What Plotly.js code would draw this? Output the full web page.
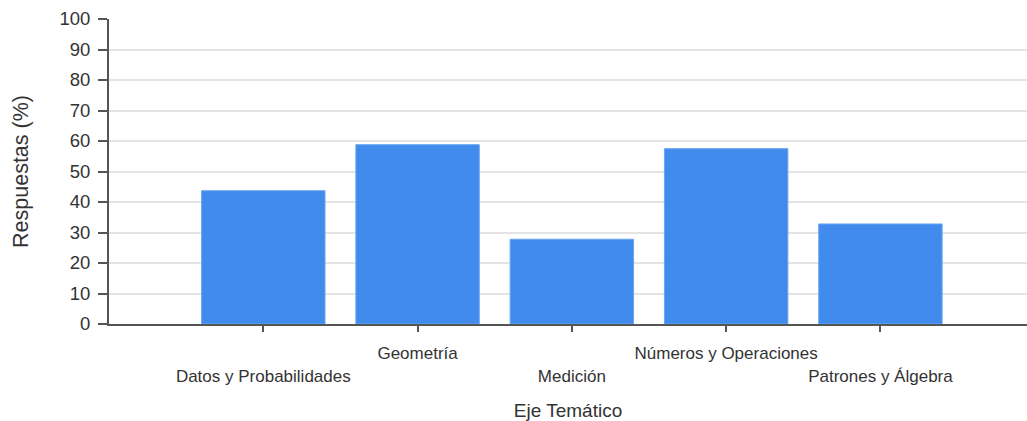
<!DOCTYPE html>
<html>
<head>
<meta charset="utf-8">
<script src="https://cdn.plot.ly/plotly-3.0.1.min.js"></script>
<style>
  html, body { margin: 0; padding: 0; background: #ffffff; }
  #chart { width: 1027px; height: 421px; }
</style>
</head>
<body>
<div id="chart"></div>
<script>
// Data
const categories = ["Datos y Probabilidades", "Geometría", "Medición", "Números y Operaciones", "Patrones y Álgebra"];
const values = [43.7, 58.8, 27.8, 57.5, 32.8];
const yTickValues = [0, 10, 20, 30, 40, 50, 60, 70, 80, 90, 100];

// Staggered tick labels: even-indexed labels drop to a second row
const tickLabels = categories.map((c, i) => (i % 2 === 0 ? "<br>" + c : c));

const axisColor = "#555555";
const textColor = "#333333";

const trace = {
  type: "bar",
  x: categories,
  y: values,
  marker: { color: "#418bec", line: { color: "#6aa6f2", width: 1 } },
  hoverinfo: "x+y"
};

const layout = {
  width: 1027,
  height: 421,
  margin: { l: 109, r: 0, t: 19, b: 97 },
  paper_bgcolor: "#ffffff",
  plot_bgcolor: "#ffffff",
  font: { family: "Liberation Sans, Arial, sans-serif", color: textColor },
  showlegend: false,
  bargap: 0.2,
  xaxis: {
    type: "category",
    range: [-1, 4.95],
    tickmode: "array",
    tickvals: categories,
    ticktext: tickLabels,
    tickangle: 0,
    ticks: "outside",
    ticklen: 6,
    tickwidth: 2,
    tickcolor: axisColor,
    tickfont: { size: 17, color: textColor },
    ticklabelstandoff: 7,
    showline: true,
    linecolor: axisColor,
    linewidth: 2,
    showgrid: false,
    zeroline: false,
    automargin: false,
    title: { text: "Eje Temático", font: { size: 19, color: textColor }, standoff: 19 }
  },
  yaxis: {
    range: [0, 100],
    tickmode: "array",
    tickvals: yTickValues,
    ticktext: yTickValues.map(String),
    ticks: "outside",
    ticklen: 9,
    tickwidth: 2,
    tickcolor: axisColor,
    tickfont: { size: 18.5, color: textColor },
    ticklabelstandoff: 4,
    showline: true,
    linecolor: axisColor,
    linewidth: 2,
    showgrid: true,
    gridcolor: "#e4e4e4",
    gridwidth: 2,
    zeroline: false,
    automargin: false,
    title: { text: "Respuestas (%)", font: { size: 21.5, color: textColor }, standoff: 25 }
  }
};

Plotly.newPlot("chart", [trace], layout, { displayModeBar: false, staticPlot: true });
</script>
</body>
</html>
